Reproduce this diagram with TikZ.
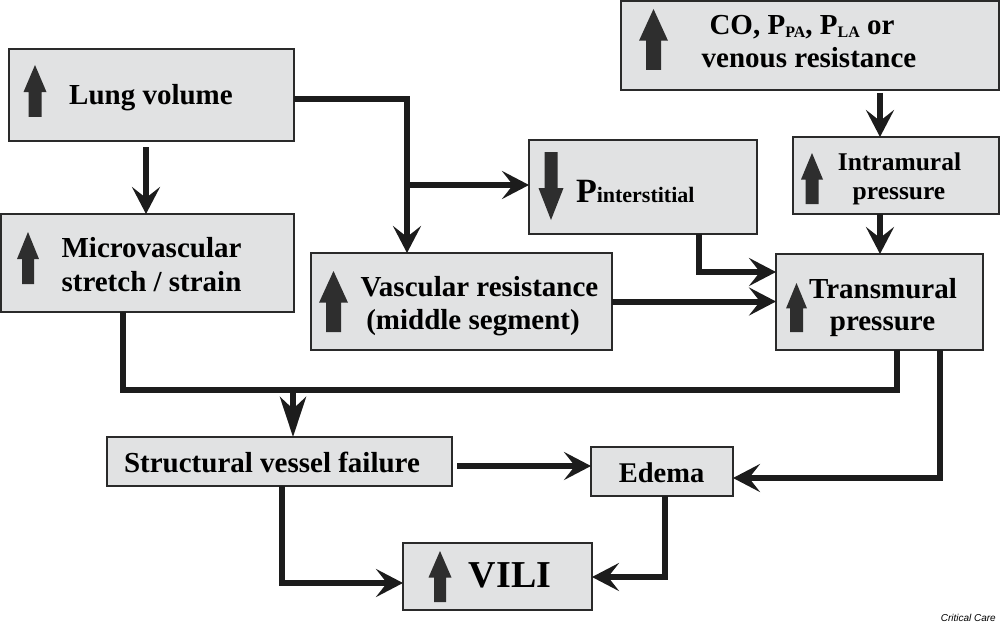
\documentclass[tikz,border=0pt]{standalone}
\usepackage{fontspec}
\setmainfont{Liberation Serif}
\newfontfamily\ccfont{Liberation Sans}
\usetikzlibrary{arrows.meta}
\definecolor{boxfill}{HTML}{E1E2E3}
\definecolor{boxline}{HTML}{2A2A2A}
\definecolor{linecol}{HTML}{1C1C1C}
\definecolor{arrfill}{HTML}{2E2E2E}
% block arrows: cx, tip y, tail y, head width, shaft width
\newcommand{\myarrowup}[5]{%
  \pgfmathsetmacro{\myhb}{#2+0.52*(#3-#2)}%
  \fill[arrfill] ({#1-#5/2},#3) -- ({#1-#5/2},\myhb) -- ({#1-#4/2},\myhb) -- (#1,#2)
    -- ({#1+#4/2},\myhb) -- ({#1+#5/2},\myhb) -- ({#1+#5/2},#3) -- cycle;}
\newcommand{\myarrowdown}[5]{%
  \pgfmathsetmacro{\myhb}{#2+0.53*(#3-#2)}%
  \fill[arrfill] ({#1-#5/2},#2) -- ({#1-#5/2},\myhb) -- ({#1-#4/2},\myhb) -- (#1,#3)
    -- ({#1+#4/2},\myhb) -- ({#1+#5/2},\myhb) -- ({#1+#5/2},#2) -- cycle;}
\begin{document}
\begin{tikzpicture}[x=1pt,y=-1pt,
  box/.style={draw=boxline, fill=boxfill, line width=2pt, inner sep=0pt, outer sep=0pt},
  txt/.style={inner sep=0pt, outer sep=0pt, font=\bfseries\fontsize{29}{33}\selectfont, anchor=base},
  conn/.style={draw=linecol, line width=6pt, -{Stealth[length=27pt,width=28pt,inset=11pt]}},
  connlong/.style={draw=linecol, line width=6pt, -{Stealth[length=40pt,width=26pt,inset=12pt]}},
  plainline/.style={draw=linecol, line width=6pt},
]
\fill[white] (0,0) rectangle (1000,623);
\useasboundingbox (0,0) rectangle (1000,623);

% boxes
\node[box, minimum width=285pt, minimum height=92pt] (lung) at (151.5,95) {};
\node[box, minimum width=378pt, minimum height=89pt] (co) at (810,45.5) {};
\node[box, minimum width=293pt, minimum height=98pt] (micro) at (147.5,263) {};
\node[box, minimum width=228pt, minimum height=94pt] (pint) at (643,187) {};
\node[box, minimum width=206pt, minimum height=77pt] (intra) at (896,175.5) {};
\node[box, minimum width=301pt, minimum height=97pt] (vasc) at (461.5,301.5) {};
\node[box, minimum width=207pt, minimum height=96pt] (trans) at (879.5,302) {};
\node[box, minimum width=345pt, minimum height=49pt] (struct) at (279.5,461.5) {};
\node[box, minimum width=142pt, minimum height=49pt] (edema) at (662,471.5) {};
\node[box, minimum width=189pt, minimum height=67pt] (vili) at (497.5,576.5) {};

% block arrows
\myarrowup{35}{65}{117}{23}{13}
\myarrowup{28}{232}{284}{22}{12}
\myarrowup{653.5}{9}{70}{29}{15}
\myarrowdown{551}{152}{220}{25}{13}
\myarrowup{812}{153}{204}{22}{13}
\myarrowup{796.5}{283}{332}{21}{13}
\myarrowup{333.5}{271}{332}{29}{15}
\myarrowup{440}{551}{602}{23}{12}

% texts
\node[txt] (tlung) at (151,105) {Lung volume};
\node[txt] (tmicro1) at (151.5,257) {Microvascular};
\node[txt] (tmicro2) at (151.5,291) {stretch / strain};
\node[txt] (tco1) at (802,35) {CO, P\raisebox{-3pt}{\fontsize{16}{18}\selectfont PA}, P\raisebox{-3pt}{\fontsize{16}{18}\selectfont LA} or};
\node[txt] (tco2) at (809,68) {venous resistance};
\node[txt, anchor=base west] (tpint) at (576,202) {\fontsize{34}{38}\selectfont P\fontsize{22}{26}\selectfont interstitial};
\node[txt, font=\bfseries\fontsize{25.5}{29}\selectfont] (tintra1) at (899.5,170) {Intramural};
\node[txt, font=\bfseries\fontsize{25.5}{29}\selectfont] (tintra2) at (899,199) {pressure};
\node[txt] (ttrans1) at (883,298) {Transmural};
\node[txt] (ttrans2) at (882.5,330) {pressure};
\node[txt] (tvasc1) at (479.5,296) {Vascular resistance};
\node[txt] (tvasc2) at (473,329) {(middle segment)};
\node[txt] (tstruct) at (272,472) {Structural vessel failure};
\node[txt, font=\bfseries\fontsize{28.5}{32}\selectfont] (tedema) at (661.5,482) {Edema};
\node[txt, font=\bfseries\fontsize{38}{42}\selectfont] (tvili) at (510,587) {VILI};
\node[inner sep=0pt, anchor=base east, font=\ccfont\itshape\fontsize{10}{12}\selectfont] (credit) at (996,621) {Critical Care};

% junction coordinates
\coordinate (j0) at (294,99);
\coordinate (j1) at (407,99);
\coordinate (j2) at (407,185);
\coordinate (c880) at (880,0);
\coordinate (p1) at (699,272);
\coordinate (m1) at (123,390);
\coordinate (t1) at (897,390);
\coordinate (s1) at (293,390);
\coordinate (t2) at (940,478);
\coordinate (s2) at (457,466);
\coordinate (v1) at (282,583);
\coordinate (v2) at (665,577);

% connectors
\draw[conn, shorten <=6pt] ([xshift=-5.5pt]lung.south) -- ([xshift=-1.5pt]micro.north);
\draw[conn, line join=miter] (lung.east |- j0) -- (j1) -- (vasc.north -| j1);
\draw[conn] (j2) -- (pint.west |- j2);
\draw[conn, shorten <=3pt] (co.south -| c880) -- (intra.north -| c880);
\draw[conn] (intra.south -| c880) -- (trans.north -| c880);
\draw[conn, line join=miter] (pint.south -| p1) -- (p1) -- (trans.west |- p1);
\draw[conn] (vasc.east) -- (trans.west |- vasc.east);
\draw[plainline, line join=miter] (micro.south -| m1) -- (m1) -- (t1) -- (trans.south -| t1);
\draw[connlong] (s1) -- (struct.north -| s1);
\draw[conn, line join=miter] (trans.south -| t2) -- (t2) -- (edema.east |- t2);
\draw[conn] (s2) -- (edema.west |- s2);
\draw[conn, line join=miter] (struct.south -| v1) -- (v1) -- (vili.west |- v1);
\draw[conn, line join=miter] (edema.south -| v2) -- (v2) -- (vili.east |- v2);
\end{tikzpicture}
\end{document}
